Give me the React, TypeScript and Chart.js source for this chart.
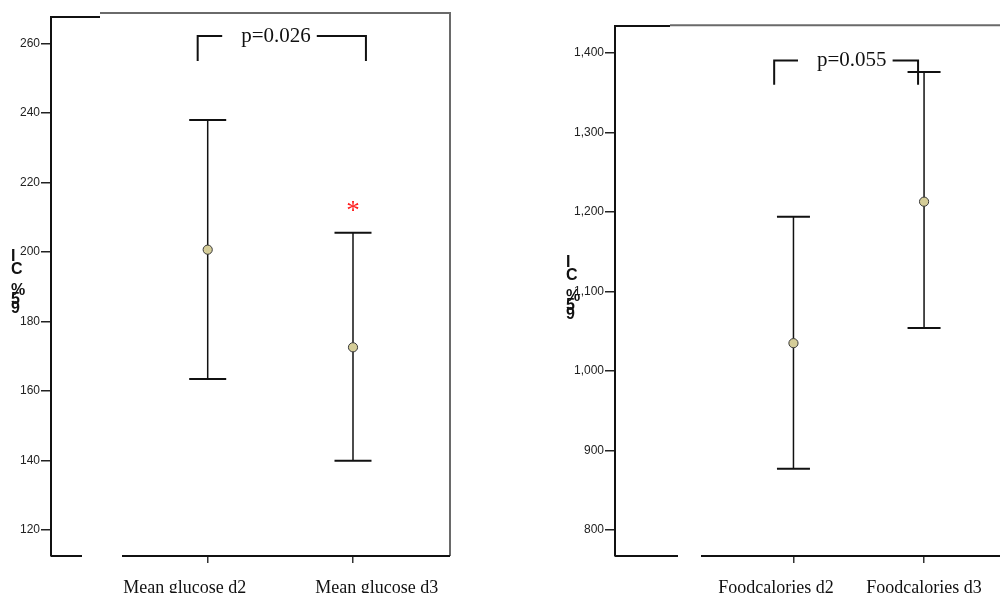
import { useEffect, useRef } from 'react';
import { Chart, registerables } from 'chart.js';

Chart.register(...registerables);

// Glucose panel
const glucoseLabels = ['Mean glucose d2', 'Mean glucose d3'];
const glucoseMean = [200.7, 172.6];
const glucoseLower = [163.5, 139.9];
const glucoseUpper = [238.0, 205.6];
const glucoseTicks = [120, 140, 160, 180, 200, 220, 240, 260];
const glucosePText = 'p=0.026';

// Food calories panel
const calorieLabels = ['Foodcalories d2', 'Foodcalories d3'];
const calorieMean = [1035, 1213];
const calorieLower = [877, 1054];
const calorieUpper = [1194, 1376];
const calorieTicks = [800, 900, 1000, 1100, 1200, 1300, 1400];
const caloriePText = 'p=0.055';

const yTitle = '95% CI';

type PanelCfg = {
  labels: string[];
  mean: number[];
  lower: number[];
  upper: number[];
  ticks: number[];
  pText: string;
  comma: boolean;
  pad: { left: number; top: number; right: number };
  yAxisWidth: number;
  xMin: number;
  xMax: number;
  yMin: number;
  yMax: number;
  labelShift: number[];
  capWidth: number;
  bracket: { from: number; to: number; top: number; bottom: number; textAt: number };
  frame: { blackTopTo: number; grayTopY: number; rightLine: boolean; gaps: number[][] };
  starIndex: number | null;
  title: { x: number; y: number };
};

const SANS = '"Liberation Sans", Arial, sans-serif';
const SERIF = '"Liberation Serif", "Times New Roman", serif';

// vertical offsets of the stacked y-title glyphs (top to bottom)
const titleOffsets = [0, 12.5, 33.5, 43, 51.5];

function makePlugin(cfg: PanelCfg) {
  return {
    id: 'panelDecor',
    beforeDatasetsDraw(chart: any) {
      const { ctx, scales } = chart;
      const xs = scales.x;
      const ys = scales.y;
      ctx.save();
      ctx.strokeStyle = '#111';
      cfg.mean.forEach((_m, i) => {
        const x = xs.getPixelForValue(i + 1);
        const yl = ys.getPixelForValue(cfg.lower[i]);
        const yu = ys.getPixelForValue(cfg.upper[i]);
        ctx.lineWidth = 1.5;
        ctx.beginPath();
        ctx.moveTo(x, yu);
        ctx.lineTo(x, yl);
        ctx.stroke();
        const h = cfg.capWidth / 2;
        ctx.lineWidth = 2;
        ctx.beginPath();
        ctx.moveTo(x - h, yu);
        ctx.lineTo(x + h, yu);
        ctx.moveTo(x - h, yl);
        ctx.lineTo(x + h, yl);
        ctx.stroke();
      });
      ctx.restore();
    },
    afterDraw(chart: any) {
      const { ctx, scales, chartArea } = chart;
      const xs = scales.x;
      const ys = scales.y;
      const { left, right, top, bottom } = chartArea;
      ctx.save();

      // frame: short black top edge, grey top line, optional grey right edge
      ctx.lineWidth = 2;
      ctx.strokeStyle = '#111';
      ctx.beginPath();
      ctx.moveTo(left, top);
      ctx.lineTo(cfg.frame.blackTopTo, top);
      ctx.stroke();
      ctx.strokeStyle = '#6a6a6a';
      ctx.beginPath();
      ctx.moveTo(cfg.frame.blackTopTo, cfg.frame.grayTopY);
      ctx.lineTo(right, cfg.frame.grayTopY);
      if (cfg.frame.rightLine) {
        ctx.lineTo(right, bottom);
      }
      ctx.stroke();

      // broken bottom axis line
      ctx.strokeStyle = '#111';
      ctx.beginPath();
      let start = left;
      cfg.frame.gaps.forEach(([g0, g1]) => {
        ctx.moveTo(start, bottom);
        ctx.lineTo(g0, bottom);
        start = g1;
      });
      ctx.moveTo(start, bottom);
      ctx.lineTo(right, bottom);
      ctx.stroke();

      // significance bracket with p-value
      const b = cfg.bracket;
      const bx0 = xs.getPixelForValue(b.from);
      const bx1 = xs.getPixelForValue(b.to);
      const byTop = ys.getPixelForValue(b.top);
      const byBot = ys.getPixelForValue(b.bottom);
      const tx = xs.getPixelForValue(b.textAt);
      ctx.font = `21px ${SERIF}`;
      const tw = ctx.measureText(cfg.pText).width;
      ctx.lineWidth = 2;
      ctx.beginPath();
      ctx.moveTo(bx0, byBot);
      ctx.lineTo(bx0, byTop);
      ctx.lineTo(tx - tw / 2 - 19, byTop);
      ctx.moveTo(tx + tw / 2 + 6, byTop);
      ctx.lineTo(bx1, byTop);
      ctx.lineTo(bx1, byBot);
      ctx.stroke();
      ctx.fillStyle = '#111';
      ctx.textAlign = 'center';
      ctx.textBaseline = 'middle';
      ctx.fillText(cfg.pText, tx, byTop);

      // red asterisk above the marked error bar
      if (cfg.starIndex !== null) {
        const sx = xs.getPixelForValue(cfg.starIndex + 1);
        const sy = ys.getPixelForValue(cfg.upper[cfg.starIndex]);
        ctx.font = `27px ${SERIF}`;
        ctx.fillStyle = '#ff1f1f';
        ctx.textAlign = 'center';
        ctx.textBaseline = 'alphabetic';
        ctx.fillText('*', sx, sy - 14);
      }

      // stacked y-axis title glyphs
      const glyphs = yTitle.replace(' ', '').split('').reverse();
      ctx.font = `bold 16px ${SANS}`;
      ctx.fillStyle = '#111';
      ctx.textAlign = 'left';
      ctx.textBaseline = 'top';
      glyphs.forEach((g, i) => {
        ctx.fillText(g, cfg.title.x, cfg.title.y + titleOffsets[i]);
      });

      ctx.restore();
    },
  };
}

function buildConfig(cfg: PanelCfg): any {
  return {
    type: 'scatter',
    data: {
      datasets: [
        {
          data: cfg.mean.map((m, i) => ({ x: i + 1, y: m })),
          pointRadius: 4.6,
          pointHoverRadius: 4.6,
          backgroundColor: '#d5cd98',
          borderColor: '#3a3a3a',
          borderWidth: 1,
        },
      ],
    },
    options: {
      responsive: false,
      animation: false,
      devicePixelRatio: 1,
      layout: {
        autoPadding: false,
        padding: { left: cfg.pad.left, top: cfg.pad.top, right: cfg.pad.right, bottom: 0 },
      },
      plugins: { legend: { display: false }, tooltip: { enabled: false } },
      scales: {
        x: {
          type: 'linear',
          position: 'bottom',
          weight: 0,
          min: cfg.xMin,
          max: cfg.xMax,
          afterBuildTicks: (s: any) => {
            s.ticks = cfg.labels.map((_l, i) => ({ value: i + 1 }));
          },
          afterFit: (s: any) => {
            s.height = 7;
            s.paddingLeft = 0;
            s.paddingRight = 0;
          },
          ticks: { display: false, autoSkip: false },
          grid: { drawOnChartArea: false, drawTicks: true, tickLength: 7, color: '#333', lineWidth: 1.5 },
          border: { display: false },
        },
        xl: {
          type: 'linear',
          position: 'bottom',
          weight: 1,
          min: cfg.xMin,
          max: cfg.xMax,
          afterBuildTicks: (s: any) => {
            s.ticks = cfg.labels.map((_l, i) => ({ value: i + 1 + cfg.labelShift[i] }));
          },
          afterFit: (s: any) => {
            s.height = 30;
            s.paddingLeft = 0;
            s.paddingRight = 0;
          },
          ticks: {
            autoSkip: false,
            maxRotation: 0,
            padding: 14,
            color: '#111',
            font: { family: SERIF, size: 18 },
            callback: (_v: any, i: number) => cfg.labels[i],
          },
          grid: { display: false, drawTicks: false },
          border: { display: false },
        },
        y: {
          type: 'linear',
          position: 'left',
          min: cfg.yMin,
          max: cfg.yMax,
          afterBuildTicks: (s: any) => {
            s.ticks = cfg.ticks.map((v) => ({ value: v }));
          },
          afterFit: (s: any) => {
            s.width = cfg.yAxisWidth;
          },
          ticks: {
            autoSkip: false,
            padding: 1,
            color: '#222',
            font: { family: SANS, size: 12 },
            callback: (v: any) => (cfg.comma ? Number(v).toLocaleString('en-US') : String(v)),
          },
          grid: { drawOnChartArea: false, drawTicks: true, tickLength: 10, color: '#222', lineWidth: 1.5 },
          border: { display: true, color: '#111', width: 2 },
        },
      },
    },
    plugins: [makePlugin(cfg)],
  };
}

const glucosePanel: PanelCfg = {
  labels: glucoseLabels,
  mean: glucoseMean,
  lower: glucoseLower,
  upper: glucoseUpper,
  ticks: glucoseTicks,
  pText: glucosePText,
  comma: false,
  pad: { left: 0, top: 17, right: 550 },
  yAxisWidth: 51,
  xMin: -0.0785,
  xMax: 2.6676,
  yMin: 112.51,
  yMax: 267.69,
  labelShift: [-0.1576, 0.163],
  capWidth: 37,
  bracket: { from: 0.931, to: 2.089, top: 262.2, bottom: 255, textAt: 1.47 },
  frame: { blackTopTo: 100, grayTopY: 13, rightLine: true, gaps: [[82, 122]] },
  starIndex: 1,
  title: { x: 11, y: 249 },
};

const caloriePanel: PanelCfg = {
  labels: calorieLabels,
  mean: calorieMean,
  lower: calorieLower,
  upper: calorieUpper,
  ticks: calorieTicks,
  pText: caloriePText,
  comma: true,
  pad: { left: 555, top: 26, right: 0 },
  yAxisWidth: 60,
  xMin: -0.3665,
  xMax: 2.5815,
  yMin: 767.3,
  yMax: 1433.98,
  labelShift: [-0.134, 0],
  capWidth: 33,
  bracket: { from: 0.8523, to: 1.9541, top: 1390.7, bottom: 1360, textAt: 1.4468 },
  frame: { blackTopTo: 670, grayTopY: 25.3, rightLine: false, gaps: [[678, 701]] },
  starIndex: null,
  title: { x: 566, y: 255 },
};

function PanelCanvas({ cfg }: { cfg: PanelCfg }) {
  const ref = useRef<HTMLCanvasElement | null>(null);
  useEffect(() => {
    if (!ref.current) return;
    const chart = new Chart(ref.current, buildConfig(cfg));
    return () => chart.destroy();
  }, [cfg]);
  return (
    <canvas
      ref={ref}
      width={1000}
      height={593}
      style={{ position: 'absolute', left: 0, top: 0, width: 1000, height: 593 }}
    />
  );
}

export default function App() {
  return (
    <div style={{ position: 'absolute', left: 0, top: 0, width: 1000, height: 593, background: '#fff', overflow: 'hidden' }}>
      <PanelCanvas cfg={glucosePanel} />
      <PanelCanvas cfg={caloriePanel} />
    </div>
  );
}
